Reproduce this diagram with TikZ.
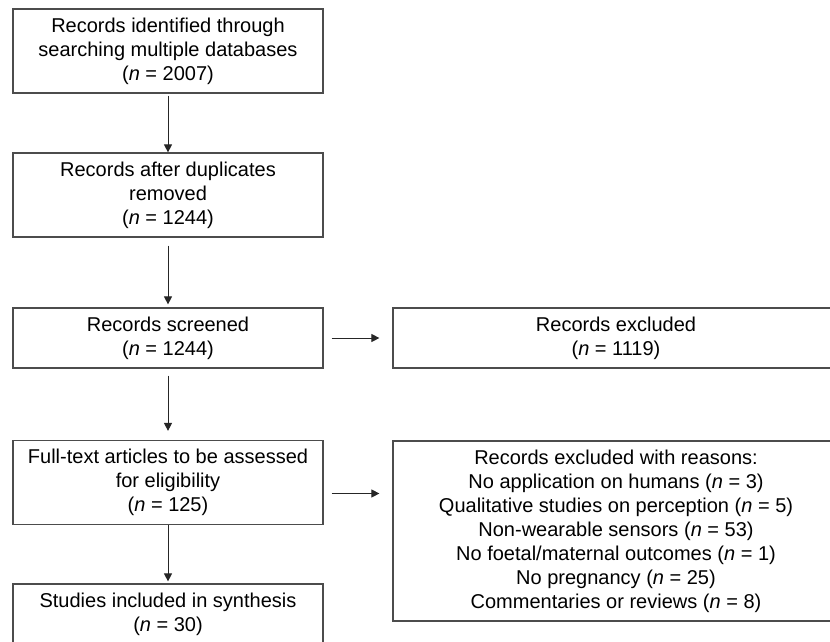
\documentclass[tikz,border=0pt]{standalone}
\usepackage{fontspec}
\setmainfont{Liberation Sans}
\usetikzlibrary{arrows.meta}

\begin{document}
\begin{tikzpicture}[x=1pt,y=-1pt,
 box/.style={draw=black!70,line width=1.2pt,align=center,minimum width=310pt,
  font=\fontsize{20}{24}\selectfont,inner sep=0pt},
 widebox/.append style={box,minimum width=446pt},
 arr/.style={draw=black!85,line width=1pt,-{Triangle[length=8pt,width=8pt]}}]

\useasboundingbox (0,0) rectangle (830,642);
\clip (0,0) rectangle (830,642);

% main column
\node [box,minimum height=84pt] (ident) at (168,51) {Records identified through\\searching multiple databases\\(\textit{n} = 2007)};
\node [box,minimum height=84pt] (dupl) at (168,195) {Records after duplicates\\removed\\(\textit{n} = 1244)};
\node [box,minimum height=60pt] (screen) at (168,338) {Records screened\\(\textit{n} = 1244)};
\node [box,minimum height=84pt] (full) at (168,482.5) {Full-text articles to be assessed\\for eligibility\\(\textit{n} = 125)};
\node [box,minimum height=60pt] (incl) at (168,614) {Studies included in synthesis\\(\textit{n} = 30)};

% exclusions
\node [widebox,minimum height=60pt] (excl) at (616,338) {Records excluded\\(\textit{n} = 1119)};
\node [widebox,minimum height=180pt] (reasons) at (616,531) {Records excluded with reasons:\\
 No application on humans (\textit{n} = 3)\\
 Qualitative studies on perception (\textit{n} = 5)\\
 Non-wearable sensors (\textit{n} = 53)\\
 No foetal/maternal outcomes (\textit{n} = 1)\\
 No pregnancy (\textit{n} = 25)\\
 Commentaries or reviews (\textit{n} = 8)};

\draw [arr,shorten <=2pt] (ident) -- (dupl);
\draw [arr,shorten <=8pt,shorten >=3pt] (dupl) -- (screen);
\draw [arr,shorten <=7pt,shorten >=9pt] (screen) -- (full);
\draw [arr,shorten >=2pt] (full) -- (incl);

\draw [arr,shorten <=8pt,shorten >=13pt] (screen.east) -- (screen.east -| excl.west);
\draw [arr,shorten <=8pt,shorten >=13pt] ([yshift=-11pt]full.east) -- ([yshift=-11pt]full.east -| reasons.west);

\end{tikzpicture}
\end{document}
